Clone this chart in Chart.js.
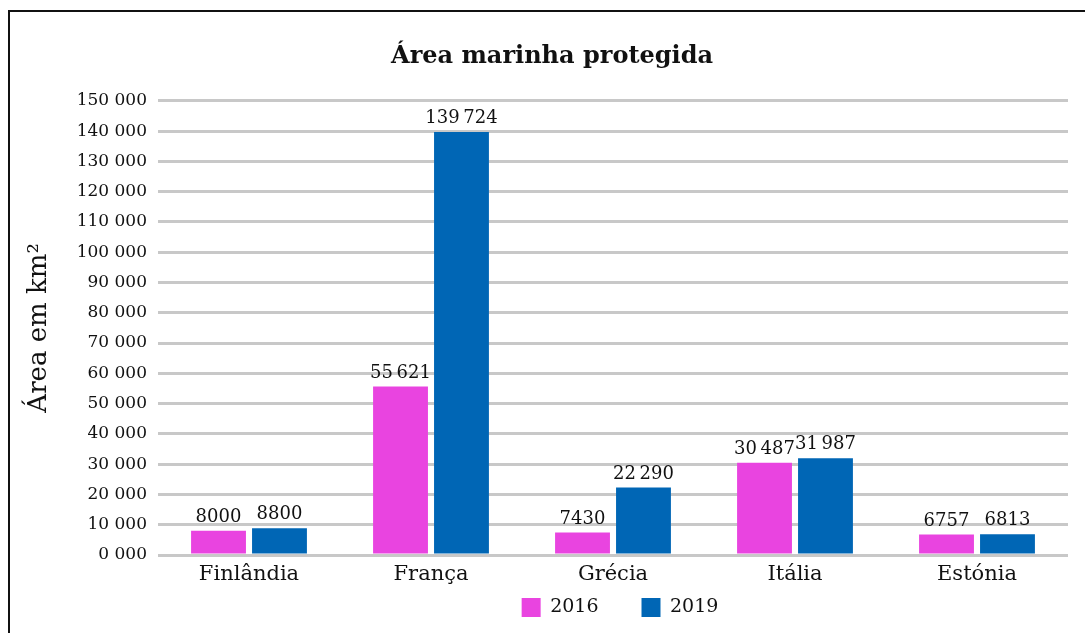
<!doctype html>
<html lang="pt">
<head>
<meta charset="utf-8">
<title>Área marinha protegida</title>
<script src="https://cdn.jsdelivr.net/npm/chart.js@4.4.1/dist/chart.umd.min.js"></script>
<style>
  html,body{margin:0;padding:0;background:#fff;overflow:hidden}
  .frame{position:absolute;left:8px;top:10px;width:1100px;height:700px;border:2px solid #111;box-sizing:border-box}
  canvas{position:absolute;left:0;top:0}
</style>
</head>
<body>
<div class="frame"></div>
<canvas id="chart" width="1085" height="633"></canvas>
<script>
  const countries = ["Finlândia", "França", "Grécia", "Itália", "Estónia"];
  const area2016 = [8000, 55621, 7430, 30487, 6757];
  const area2019 = [8800, 139724, 22290, 31987, 6813];
  const yTicks = ["0 000", "10 000", "20 000", "30 000", "40 000", "50 000", "60 000", "70 000",
    "80 000", "90 000", "100 000", "110 000", "120 000", "130 000", "140 000", "150 000"];

  const SERIF = "'DejaVu Serif', 'Liberation Serif', serif";
  const fmtLabel = (v) => v >= 10000 ? Math.floor(v / 1000) + "\u2009" + String(v % 1000).padStart(3, "0") : String(v);

  // draws the value above every bar
  const barValues = {
    id: "barValues",
    afterDatasetsDraw(chart) {
      const ctx = chart.ctx;
      ctx.save();
      ctx.font = "18px " + SERIF;
      ctx.fillStyle = "#111";
      ctx.textAlign = "center";
      ctx.textBaseline = "alphabetic";
      chart.data.datasets.forEach((ds, di) => {
        chart.getDatasetMeta(di).data.forEach((bar, i) => {
          ctx.fillText(fmtLabel(ds.data[i]), bar.x, bar.y - 9);
        });
      });
      ctx.restore();
    }
  };

  // nudge title and legend: title sits a little right of centre,
  // legend hugs the category labels instead of its own box
  const placeBlocks = {
    id: "placeBlocks",
    afterLayout(chart) {
      const t = chart.titleBlock, l = chart.legend;
      t.left += 18; t.right += 18;
      l.left += 86; l.right += 86;
      const h = l.bottom - l.top;
      l.top = chart.chartArea.bottom;
      l.bottom = l.top + h;
    }
  };

  new Chart(document.getElementById("chart"), {
    type: "bar",
    data: {
      labels: countries,
      datasets: [
        { label: "2016", data: area2016, backgroundColor: "#e944e0" },
        { label: "2019", data: area2019, backgroundColor: "#0066b5" }
      ]
    },
    options: {
      responsive: false,
      devicePixelRatio: 1,
      animation: false,
      categoryPercentage: 0.67,
      barPercentage: 0.9,
      layout: { padding: { left: 0, right: 17, top: 0, bottom: -26 } },
      plugins: {
        title: {
          display: true, text: "Área marinha protegida", color: "#111",
          font: { family: SERIF, size: 24, weight: "bold" },
          padding: { top: 42, bottom: 30 }
        },
        legend: {
          position: "bottom",
          labels: { color: "#111", font: { family: SERIF, size: 19 }, boxWidth: 19, boxHeight: 19, padding: 43 }
        },
        tooltip: { enabled: false }
      },
      scales: {
        x: {
          afterFit: (s) => { s.height = 32; },
          grid: { display: false, drawTicks: false },
          border: { display: false },
          ticks: { color: "#111", font: { family: SERIF, size: 21 }, padding: 7 }
        },
        y: {
          min: 0, max: 150000,
          afterFit: (s) => { s.width = 158; },
          grid: { color: "#c8c8c8", lineWidth: 3, drawTicks: false },
          border: { display: false },
          ticks: {
            stepSize: 10000, color: "#111", padding: 11,
            font: { family: SERIF, size: 17 },
            callback: (v, i) => yTicks[i]
          },
          title: {
            display: true, text: "Área em km²", color: "#111",
            font: { family: SERIF, size: 26 },
            padding: { top: 24, bottom: 0 }
          }
        }
      }
    },
    plugins: [barValues, placeBlocks]
  });
</script>
</body>
</html>
